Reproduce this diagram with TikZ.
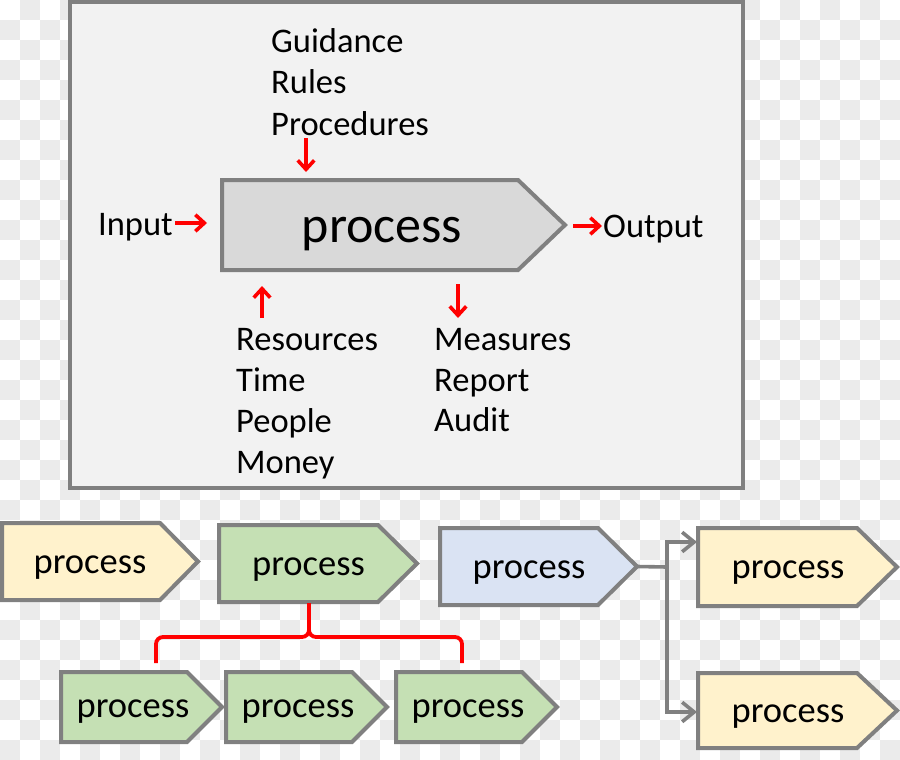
\documentclass[tikz,border=0pt]{standalone}
\usepackage{fontspec}
\setmainfont{Carlito}
\usetikzlibrary{arrows.meta}
\definecolor{edgegray}{HTML}{808080}
\definecolor{panelfill}{HTML}{F2F2F2}
\definecolor{mainfill}{HTML}{D9D9D9}
\definecolor{yelfill}{HTML}{FFF2CC}
\definecolor{grnfill}{HTML}{C5E0B4}
\definecolor{blufill}{HTML}{DAE3F3}
\definecolor{chkgray}{HTML}{EBEBEB}
\definecolor{arrred}{HTML}{FF0000}
\newcommand\pent[7]{% name, fill, left x, top y, rect end x, tip x, bottom y
  \draw[procline, fill=#2] (#3,#4) -- (#5,#4) -- (#6,{(#4+#7)/2}) -- (#5,#7) -- (#3,#7) -- cycle;
  \coordinate (#1-tip) at (#6,{(#4+#7)/2});
  \coordinate (#1-west) at (#3,{(#4+#7)/2});
}
\begin{document}
\begin{tikzpicture}[x=1pt,y=-1pt,
  procline/.style={draw=edgegray, line width=4pt, line join=miter},
  labeltext/.style={inner sep=0pt, font=\fontsize{34.5}{41}\selectfont, anchor=base west, align=left},
  bigtext/.style={inner sep=0pt, font=\fontsize{52}{60}\selectfont, anchor=base},
  smalltext/.style={inner sep=0pt, font=\fontsize{36.5}{44}\selectfont, anchor=base},
  redarrow/.style={draw=arrred, line width=3.6pt, -{Straight Barb[length=6pt,width=11pt,scale=1.5]}},
  redline/.style={draw=arrred, line width=3.8pt},
  grayconn/.style={draw=edgegray, line width=3.6pt},
  grayarrow/.style={grayconn, -{Straight Barb[length=8pt,width=13pt,scale=1.5]}}
]
\useasboundingbox (0,0) rectangle (900,760);
\clip (0,0) rectangle (900,760);
\fill[white] (0,0) rectangle (900,760);
% checkerboard background
\foreach \r in {0,...,37} {
  \pgfmathtruncatemacro\sh{mod(\r+1,2)}
  \foreach \k in {0,...,22} {
    \fill[chkgray] ({(2*\k+\sh)*20},{\r*20}) rectangle ++(20,20);
  }
}
% top panel
\draw[draw=edgegray, line width=4pt, fill=panelfill] (70,2) rectangle (743,488);
\pent{main}{mainfill}{222}{180}{518}{565}{270}
\node[bigtext] (mainlbl) at (382,242) {process};
\node[labeltext] (guid) at (271,53) {Guidance};
\node[labeltext] (rules) at (271,94) {Rules};
\node[labeltext] (proc) at (271,135) {Procedures};
\node[labeltext, anchor=base east] (inp) at (173,235) {Input};
\node[labeltext] (outp) at (603,237) {Output};
\node[labeltext] (res) at (236,350) {Resources};
\node[labeltext] (time) at (236,391) {Time};
\node[labeltext] (peop) at (236,432) {People};
\node[labeltext] (money) at (236,473) {Money};
\node[labeltext] (meas) at (434,350) {Measures};
\node[labeltext] (rep) at (434,391) {Report};
\node[labeltext] (aud) at (434,431) {Audit};
\coordinate (procA) at (306,138); \coordinate (procB) at (306,172);
\coordinate (inA) at (175,223);   \coordinate (inB) at (207,223);
\coordinate (outA) at (573,226);  \coordinate (outB) at (602,226);
\coordinate (resA) at (262,318);  \coordinate (resB) at (262,286);
\coordinate (measA) at (458,284); \coordinate (measB) at (458,318);
\draw[redarrow] (procA) -- (procB);
\draw[redarrow] (inA) -- (inB);
\draw[redarrow] (outA) -- (outB);
\draw[redarrow] (resA) -- (resB);
\draw[redarrow] (measA) -- (measB);
% bottom row
\pent{y1}{yelfill}{2}{523}{160}{198}{600}
\node[smalltext] (y1lbl) at (90,573) {process};
\pent{g1}{grnfill}{219}{525}{378}{417}{602}
\node[smalltext] (g1lbl) at (308.5,575) {process};
\pent{b1}{blufill}{440}{528}{598}{637}{605}
\node[smalltext] (b1lbl) at (529,578) {process};
\pent{y2}{yelfill}{698}{528}{857}{897}{606}
\node[smalltext] (y2lbl) at (788,578) {process};
\pent{y3}{yelfill}{698}{673}{857}{897}{748}
\node[smalltext] (y3lbl) at (788,722) {process};
\pent{ga}{grnfill}{61}{672}{187}{222}{742}
\node[smalltext] (galbl) at (133,717) {process};
\pent{gb}{grnfill}{226}{672}{352}{387}{742}
\node[smalltext] (gblbl) at (298,717) {process};
\pent{gc}{grnfill}{396}{672}{522}{557}{742}
\node[smalltext] (gclbl) at (468,717) {process};
% red brace
\coordinate (g1bot) at (309,603);
\coordinate (brc) at (309,629);
\coordinate (brl) at (156,663);
\coordinate (brr) at (462,663);
\draw[redline, rounded corners=7pt] (brl) -- (156,637) -- (309,637) -- (brc);
\draw[redline, rounded corners=7pt] (brr) -- (462,637) -- (309,637) -- (brc);
\draw[redline] (brc) -- (g1bot);
% gray connectors
\coordinate (junc) at (667,567);
\coordinate (y2in) at (697,542);
\coordinate (y3in) at (697,712);
\draw[grayconn] (b1-tip) -- (junc);
\draw[grayarrow] (junc) |- (y2in);
\draw[grayarrow] (junc) |- (y3in);
\end{tikzpicture}
\end{document}
